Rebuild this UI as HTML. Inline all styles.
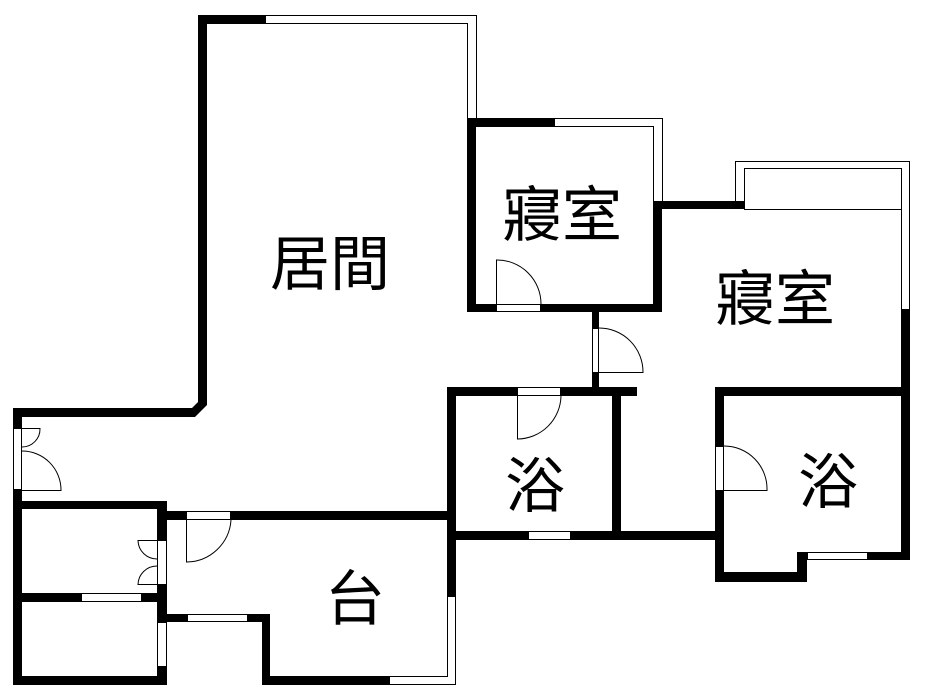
<!DOCTYPE html>
<html><head><meta charset="utf-8"><style>
html,body{margin:0;padding:0;background:#fff;}
svg{display:block;}
text{font-family:"Liberation Sans","Noto Sans CJK TC","Noto Sans CJK SC",sans-serif;font-size:60px;fill:#000;text-anchor:middle;}
</style></head><body>
<svg width="944" height="696" viewBox="0 0 944 696" xmlns="http://www.w3.org/2000/svg">
<g fill="#000">
<!-- living room -->
<rect x="198" y="15" width="68" height="9"/>
<polygon points="198,15 207,15 207,405 195,417 13,417 13,408 192,408 198,402"/>
<!-- left wall -->
<rect x="13" y="408" width="9" height="20"/>
<rect x="13" y="490" width="9" height="195"/>
<rect x="13" y="501" width="154" height="8"/>
<rect x="13" y="593" width="68" height="9"/>
<rect x="142" y="593" width="25" height="9"/>
<rect x="13" y="676" width="154" height="9"/>
<rect x="157" y="501" width="10" height="39"/>
<rect x="157" y="585" width="10" height="37"/>
<rect x="157" y="667" width="10" height="18"/>
<!-- kitchen -->
<rect x="157" y="511" width="29" height="9"/>
<rect x="231" y="511" width="224" height="9"/>
<rect x="157" y="614" width="30" height="8"/>
<rect x="248" y="614" width="22" height="8"/>
<rect x="262" y="614" width="8" height="71"/>
<rect x="262" y="676" width="128" height="9"/>
<rect x="447" y="387" width="9" height="210"/>
<!-- bath1 -->
<rect x="447" y="387" width="70" height="9"/>
<rect x="561" y="387" width="76" height="9"/>
<rect x="612" y="387" width="9" height="146"/>
<rect x="447" y="531" width="81" height="9"/>
<rect x="571" y="531" width="152" height="9"/>
<!-- bedroom1 -->
<rect x="467" y="118" width="88" height="9"/>
<rect x="467" y="118" width="9" height="194"/>
<rect x="653" y="201" width="9" height="111"/>
<rect x="467" y="304" width="29" height="8"/>
<rect x="541" y="304" width="121" height="8"/>
<rect x="592" y="312" width="7" height="16"/>
<rect x="592" y="373" width="7" height="14"/>
<!-- bedroom2 -->
<rect x="653" y="201" width="91" height="8"/>
<rect x="901" y="309" width="9" height="251"/>
<!-- bath2 -->
<rect x="715" y="387" width="195" height="9"/>
<rect x="715" y="387" width="9" height="59"/>
<rect x="715" y="491" width="9" height="91"/>
<rect x="715" y="572" width="92" height="10"/>
<rect x="797" y="552" width="10" height="30"/>
<rect x="868" y="552" width="42" height="8"/>
</g>
<g fill="#fff" stroke="#000" stroke-width="1">
<!-- windows -->
<polyline points="266,15.5 476.5,15.5 476.5,118" fill="none"/>
<polyline points="266,23.5 467.5,23.5 467.5,118" fill="none"/>
<polyline points="555,118.5 662.5,118.5 662.5,201" fill="none"/>
<polyline points="555,126.5 653.5,126.5 653.5,201" fill="none"/>
<polyline points="735.5,201 735.5,161.5 909.5,161.5 909.5,309" fill="none"/>
<polyline points="744.5,209.5 744.5,168.5 901.5,168.5 901.5,309" fill="none"/>
<line x1="744" y1="209.5" x2="901" y2="209.5"/>
<rect x="13.5" y="428.5" width="8" height="61"/>
<rect x="81.5" y="593.5" width="60" height="8"/>
<rect x="157.5" y="540.5" width="9" height="44"/>
<rect x="157.5" y="622.5" width="9" height="44"/>
<rect x="186.5" y="511.5" width="44" height="8"/>
<rect x="187.5" y="614.5" width="60" height="7"/>
<polyline points="390,676.5 447.5,676.5 447.5,597" fill="none"/>
<polyline points="390,684.5 455.5,684.5 455.5,597" fill="none"/>
<rect x="517.5" y="387.5" width="43" height="8"/>
<rect x="528.5" y="531.5" width="42" height="8"/>
<rect x="496.5" y="304.5" width="44" height="7"/>
<rect x="592.5" y="328.5" width="6" height="44"/>
<rect x="715.5" y="446.5" width="8" height="44"/>
<rect x="807.5" y="552.5" width="60" height="7"/>
</g>
<g fill="none" stroke="#000" stroke-width="1">
<!-- door swings -->
<path d="M22,428.5 H40 A18,18 0 0 1 22,447"/>
<path d="M22,451 A39,39 0 0 1 61,490 V490.5 H22"/>
<path d="M186.5,520 V562 A45,45 0 0 0 231,520"/>
<path d="M157,540.5 H138 A19,19 0 0 0 157,559"/>
<path d="M157,584.5 H138 A19,19 0 0 1 157,566"/>
<path d="M517.5,396 V439 A44,44 0 0 0 561,396"/>
<path d="M496.5,304 V260 A44,44 0 0 1 541,304"/>
<path d="M599,372.5 H643 A44,44 0 0 0 599,328"/>
<path d="M724,490.5 H767 A43,43 0 0 0 724,446"/>
</g>
<text x="330" y="285">居間</text>
<text x="562" y="236">寢室</text>
<text x="775" y="320">寢室</text>
<text x="535" y="507">浴</text>
<text x="828" y="503">浴</text>
<text x="355" y="620">台</text>
</svg>
</body></html>
